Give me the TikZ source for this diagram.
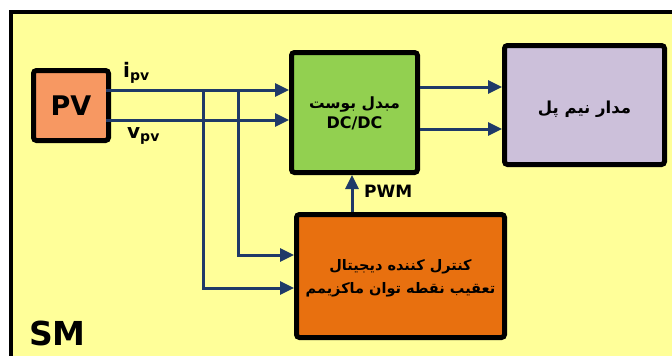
\documentclass[tikz,border=0pt]{standalone}
\usepackage{fontspec}
\setmainfont{DejaVu Sans}
\newfontfamily\arabicfont[Script=Arabic]{DejaVu Sans}
\TeXXeTstate=1
\usetikzlibrary{arrows.meta}
\definecolor{bgyellow}{HTML}{FFFF99}
\definecolor{pvorange}{HTML}{F79862}
\definecolor{boostgreen}{HTML}{92D050}
\definecolor{ctrlorange}{HTML}{E8700F}
\definecolor{hbpurple}{HTML}{CCC0DA}
\definecolor{wireblue}{HTML}{1F3A68}
\tikzset{
  blk/.style={draw=black, line width=5pt, rounded corners=3pt, inner sep=0pt, anchor=north west},
  wire/.style={draw=wireblue, line width=3pt},
  arr/.style={wire, -{Triangle[length=14pt,width=13pt]}},
}
\begin{document}
\begin{tikzpicture}[x=1pt,y=-1pt]
\useasboundingbox (0,0) rectangle (672,356);
\fill[white] (0,0) rectangle (672,356);
\draw[fill=bgyellow, line width=3.5pt] (11,12) rectangle (690,380);
% blocks
\node[blk, fill=pvorange, minimum width=75pt, minimum height=70pt] (pv) at (31,68) {};
\node[font=\bfseries\fontsize{27}{27}\selectfont] at (pv.center) {PV};
\node[blk, fill=boostgreen, minimum width=126pt, minimum height=120pt] (boost) at (289,50) {};
\node[align=center, font=\bfseries\fontsize{16}{20}\selectfont] at ([yshift=-1pt]boost.center) {{\arabicfont\fontsize{15.5}{20}\selectfont\beginR مبدل بوست\endR}\\DC/DC};
\node[blk, fill=hbpurple, minimum width=160pt, minimum height=119pt] (hb) at (502,43) {};
\node[font=\bfseries\fontsize{16.5}{20}\selectfont] at ([yshift=-4pt]hb.center) {\arabicfont\beginR مدار نیم پل\endR};
\node[blk, fill=ctrlorange, minimum width=208pt, minimum height=123pt] (ctrl) at (294,212) {};
\node[align=center, font=\arabicfont\bfseries\fontsize{14.5}{23}\selectfont] at ([yshift=-2pt]ctrl.center) {\beginR کنترل کننده دیجیتال\endR\\\beginR تعقیب نقطه توان ماکزیمم\endR};
% coordinates
\coordinate (ia) at (106,90);
\coordinate (va) at (106,120);
\coordinate (j1) at (203,90);
\coordinate (j2) at (238,89);
\coordinate (k1) at (203,288);
\coordinate (k2) at (238,255);
% connectors
\draw[arr] (ia) -- (boost.west |- ia);
\draw[arr] (va) -- (boost.west |- va);
\draw[arr] (j2) -- (k2) -- (ctrl.west |- k2);
\draw[arr] (j1) -- (k1) -- (ctrl.west |- k1);
\draw[arr] (ctrl.north -| 352,0) -- (boost.south -| 352,0);
\draw[arr] (boost.east |- 0,87) -- (hb.west |- 0,87);
\draw[arr] (boost.east |- 0,129) -- (hb.west |- 0,129);
% labels
\node[font=\bfseries\fontsize{20}{20}\selectfont, anchor=base west, inner sep=0pt] (il) at (123,77) {i\textsubscript{\fontsize{14}{14}\selectfont pv}};
\node[font=\bfseries\fontsize{20}{20}\selectfont, anchor=base west, inner sep=0pt] (vl) at (127,138) {v\textsubscript{\fontsize{14}{14}\selectfont pv}};
\node[font=\bfseries\fontsize{17}{17}\selectfont, anchor=base west, inner sep=0pt] (pwm) at (364,197) {PWM};
\node[font=\bfseries\fontsize{33}{33}\selectfont, anchor=base west, inner sep=0pt] (sm) at (29,345) {SM};
\end{tikzpicture}
\end{document}
